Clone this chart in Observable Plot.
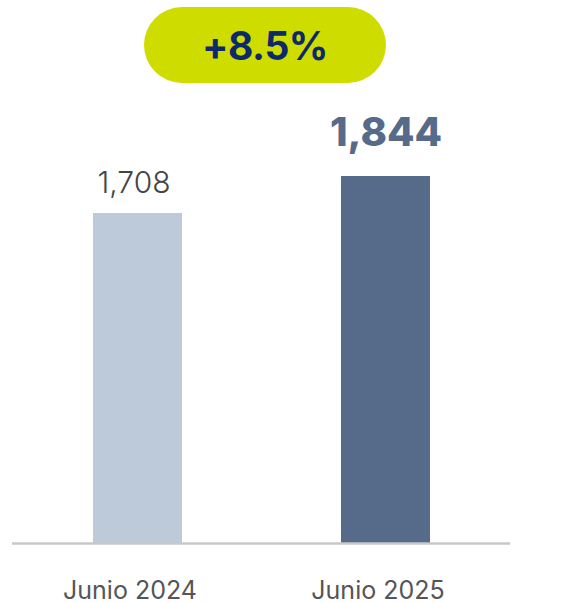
<!DOCTYPE html>
<html>
<head>
<meta charset="utf-8">
<script src="https://cdn.jsdelivr.net/npm/d3@7"></script>
<script src="https://cdn.jsdelivr.net/npm/@observablehq/plot@0.6"></script>
<style>
  html, body { margin: 0; padding: 0; background: #fff; }
  #wrap { position: relative; width: 585px; height: 603px; }
  #pill {
    position: absolute; left: 144px; top: 7px; width: 242px; height: 76px;
    border-radius: 38px; background: #cedc00; color: #0c2a6b;
    font-family: Inter, "Noto Sans", sans-serif; font-weight: 700; font-size: 39px;
    display: flex; align-items: center; justify-content: center; letter-spacing: -0.5px;
  }
</style>
</head>
<body>
<div id="wrap"><div id="pill"></div></div>
<script>
const categories = ["Junio 2024", "Junio 2025"];
const values = [1708, 1844];
const valueLabels = ["1,708", "1,844"];
const changeLabel = "+8.5%";

const data = categories.map((c, i) => ({ cat: c, value: values[i], label: valueLabels[i], i }));
const yMin = 495, yMax = 2491;
const barColors = ["#bdcad9", "#566b8a"];

const chart = Plot.plot({
  width: 585,
  height: 603,
  marginTop: 0,
  marginBottom: 60,
  marginLeft: 12,
  marginRight: 75,
  style: { fontFamily: "Inter, 'Noto Sans', sans-serif", background: "transparent" },
  x: { domain: categories, paddingInner: 0.643, paddingOuter: 0.325, label: null, axis: null },
  y: { domain: [yMin, yMax], axis: null },
  marks: [
    Plot.barY(data, { x: "cat", y1: () => yMin, y2: "value", fill: (d) => barColors[d.i] }),
    Plot.ruleY([yMin], { stroke: "#c8c8c8", strokeWidth: 2.5 }),
    Plot.text(data.filter(d => d.i === 0), { x: "cat", y: "value", text: "label", dy: -30, dx: -4, fontSize: 30, fill: "#444", fontWeight: 300 }),
    Plot.text(data.filter(d => d.i === 1), { x: "cat", y: "value", text: "label", dy: -43, fontSize: 40, fill: "#566b8a", fontWeight: 800 }),
    Plot.text(data, { x: "cat", y: () => yMin, text: "cat", dy: 47, dx: -8, fontSize: 25, fill: "#555", fontWeight: 400 })
  ]
});
document.getElementById("wrap").appendChild(chart);
chart.style.position = "absolute";
chart.style.left = "0";
chart.style.top = "0";
document.getElementById("pill").textContent = changeLabel;
</script>
</body>
</html>
